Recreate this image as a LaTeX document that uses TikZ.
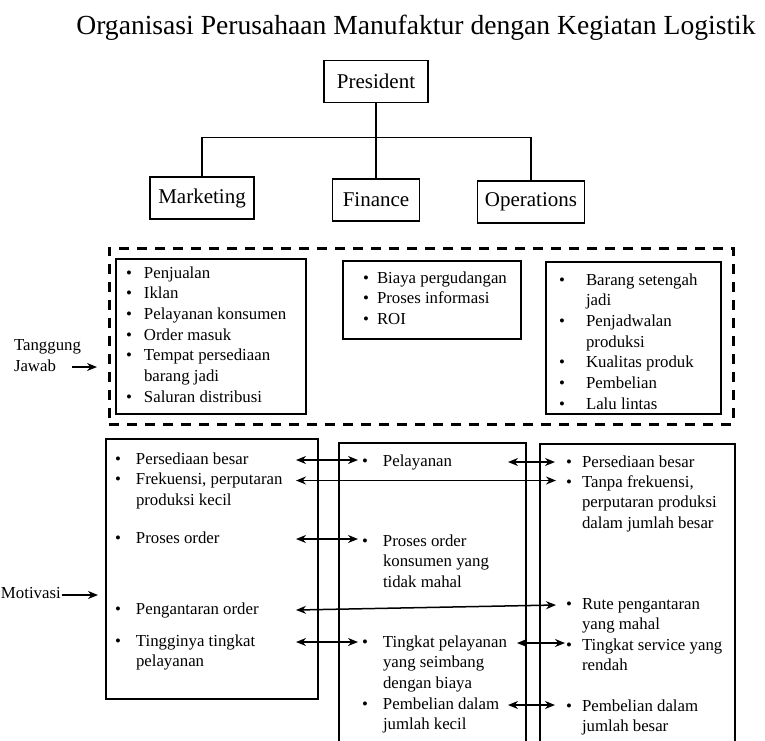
\documentclass[tikz,border=0pt]{standalone}
\usepackage{fontspec}
\setmainfont{Liberation Serif}
\usetikzlibrary{arrows.meta,calc}

% list entry: bullet, gap, then the lines of the entry stacked under each other
\newcommand\itm[2]{\makebox[#1][l]{\textbullet}\begin{tabular}[t]{@{}l@{}}#2\end{tabular}}

\begin{document}
\begin{tikzpicture}[x=1pt,y=-1pt,
  every node/.style={inner sep=0pt,outer sep=0pt},
  title/.style={font=\fontsize{27.6}{30}\selectfont},
  unit/.style={draw,line width=1.8pt,font=\fontsize{21}{24}\selectfont,minimum height=42pt},
  listbox/.style={draw,line width=1.8pt},
  entry/.style={anchor=base west,font=\fontsize{16.8}{20.6}\selectfont},
  side/.style={font=\fontsize{16.8}{20.6}\selectfont,align=left},
  tree/.style={line width=1.8pt},
  dbl/.style={line width=1.5pt,{Stealth[length=10pt,width=8pt]}-{Stealth[length=10pt,width=8pt]}},
  arr/.style={line width=1.5pt,-{Stealth[length=10pt,width=8pt]}},
  zone/.style={draw,line width=3pt,dash pattern=on 10pt off 8pt}]

\clip (0,0) rectangle (765,740);

% heading
\node[title,anchor=base] (T) at (416,34) {Organisasi Perusahaan Manufaktur dengan Kegiatan Logistik};

% organisation tree
\node[unit,minimum width=104pt] (P) at (376,81.5) {President};
\node[unit,minimum width=104pt] (Mk) at (202,198) {Marketing};
\node[unit,minimum width=87pt]  (Fi) at (376,200) {Finance};
\node[unit,minimum width=107pt] (Op) at (531,202) {Operations};
\coordinate (J) at ($(P.south)+(0,35)$);
\draw[tree] (P.south) -- (J) -- (Fi.north);
\draw[tree] (Mk.north) |- (J) -| (Op.north);

% responsibilities
\node[zone,minimum width=624pt,minimum height=176pt] (DB) at (421,336) {};
\node[listbox,minimum width=190pt,minimum height=155pt] (MkR) at (211,336.5) {};
\node[listbox,minimum width=178pt,minimum height=78pt]  (FiR) at (432,300) {};
\node[listbox,minimum width=175pt,minimum height=152pt] (OpR) at (633.5,338) {};

\node[entry] (r1) at (126,278) {\itm{18pt}{Penjualan}};
\node[entry] (r2) at (126,298.7) {\itm{18pt}{Iklan}};
\node[entry] (r3) at (126,319.4) {\itm{18pt}{Pelayanan konsumen}};
\node[entry] (r4) at (126,340.1) {\itm{18pt}{Order masuk}};
\node[entry] (r5) at (126,360.8) {\itm{18pt}{Tempat persediaan\\barang jadi}};
\node[entry] (r6) at (126,402.2) {\itm{18pt}{Saluran distribusi}};

\node[entry] (f1) at (363,283) {\itm{14pt}{Biaya pergudangan}};
\node[entry] (f2) at (363,303.7) {\itm{14pt}{Proses informasi}};
\node[entry] (f3) at (363,324.4) {\itm{14pt}{ROI}};

\node[entry] (o1) at (559,285) {\itm{27pt}{Barang setengah\\jadi}};
\node[entry] (o2) at (559,326.4) {\itm{27pt}{Penjadwalan\\produksi}};
\node[entry] (o3) at (559,367.8) {\itm{27pt}{Kualitas produk}};
\node[entry] (o4) at (559,388.5) {\itm{27pt}{Pembelian}};
\node[entry] (o5) at (559,409.2) {\itm{27pt}{Lalu lintas}};

% base of this two-line label is the baseline of its last line
\node[side,anchor=base west] (TJ) at (14,371) {Tanggung\\Jawab};
\draw[arr] ($(TJ.base west)+(58,-4)$) -- ($(DB.west |- TJ.base)+(-12,-4)$);

% motivations
\node[listbox,minimum width=212pt,minimum height=260pt] (LB) at (212,569) {};
\node[listbox,minimum width=187pt,minimum height=320pt] (MB) at (432.5,603) {};
\node[listbox,minimum width=195pt,minimum height=320pt] (RB) at (637.5,604) {};

\node[entry] (L1) at (115,464) {\itm{21pt}{Persediaan besar}};
\node[entry] (L2) at (115,484.5) {\itm{21pt}{Frekuensi, perputaran\\produksi kecil}};
\node[entry] (L3) at (115,543) {\itm{21pt}{Proses order}};
\node[entry] (L4) at (115,614) {\itm{21pt}{Pengantaran order}};
\node[entry] (L5) at (115,646) {\itm{21pt}{Tingginya tingkat\\pelayanan}};

\node[entry] (M1) at (362,466) {\itm{21pt}{Pelayanan}};
\node[entry] (M2) at (362,546) {\itm{21pt}{Proses order\\konsumen yang\\tidak mahal}};
\node[entry] (M3) at (362,647) {\itm{21pt}{Tingkat pelayanan\\yang seimbang\\dengan biaya}};
\node[entry] (M4) at (362,709) {\itm{21pt}{Pembelian dalam\\jumlah kecil}};

\node[entry] (R1) at (566,467) {\itm{16pt}{Persediaan besar}};
\node[entry] (R2) at (566,487) {\itm{16pt}{Tanpa frekuensi,\\perputaran produksi\\dalam jumlah besar}};
\node[entry] (R3) at (566,609) {\itm{16pt}{Rute pengantaran\\yang mahal}};
\node[entry] (R4) at (566,650) {\itm{16pt}{Tingkat service yang\\rendah}};
\node[entry] (R5) at (566,711) {\itm{16pt}{Pembelian dalam\\jumlah besar}};

\node[side,anchor=base west] (MO) at (1,598) {Motivasi};
\draw[arr] ($(MO.base east)+(1,-3)$) -- ($(LB.west |- MO.base)+(-8,-3)$);

% links between the three columns
\draw[dbl] ($(L1.base -| LB.east)+(-22,-4)$) -- ($(L1.base -| M1.west)+(-4,-4)$);
\draw[dbl] ($(L2.base -| LB.east)+(-22,-4)$) -- ($(L2.base -| R2.west)+(-10,-4)$);
\draw[dbl] ($(L3.base -| LB.east)+(-22,-4)$) -- ($(L3.base -| M2.west)+(-4,-4)$);
\draw[dbl] ($(L4.base -| LB.east)+(-22,-4)$) -- ($(R3.base west)+(-10,-4)$);
\draw[dbl] ($(L5.base -| LB.east)+(-22,-4)$) -- ($(L5.base -| M3.west)+(-4,-4)$);
\draw[dbl] ($(M1.base -| MB.east)+(-18,-4)$) -- ($(M1.base -| R1.west)+(-11,-4)$);
\draw[dbl] ($(M3.base -| MB.east)+(-9,-4)$) -- ($(M3.base -| R4.west)+(-1,-4)$);
\draw[dbl] ($(M4.base -| MB.east)+(-18,-4)$) -- ($(M4.base -| R5.west)+(-11,-4)$);
\end{tikzpicture}
\end{document}
